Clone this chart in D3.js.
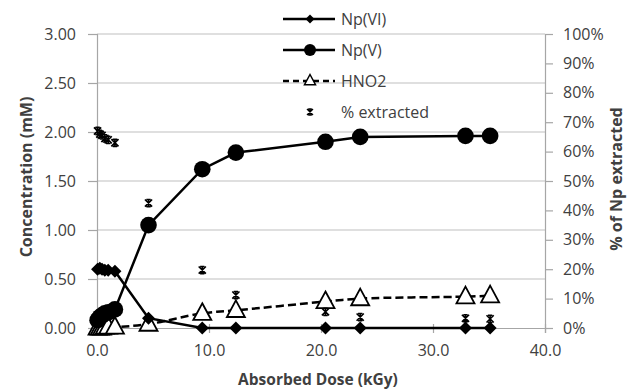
<!DOCTYPE html>
<html>
<head>
<meta charset="utf-8">
<script src="https://cdn.jsdelivr.net/npm/d3@7"></script>
<style>
  html, body { margin: 0; padding: 0; background: #fff; }
  svg { display: block; }
  text { font-family: "Open Sans", sans-serif; fill: #404040; }
</style>
</head>
<body>
<svg id="chart" width="629" height="390"></svg>
<script>
// ---- Data ----
const dose = [0.05, 0.25, 0.45, 0.7, 1.0, 1.6, 4.6, 9.4, 12.4, 20.4, 23.5, 32.9, 35.1];
const npVI = [0.60, 0.61, 0.60, 0.59, 0.59, 0.58, 0.10, 0.00, 0.00, 0.00, 0.00, 0.00, 0.00];
const npV  = [0.08, 0.11, 0.13, 0.15, 0.16, 0.19, 1.05, 1.62, 1.79, 1.90, 1.95, 1.96, 1.96];
const hno2 = [0.00, 0.00, 0.00, 0.01, 0.01, 0.01, 0.04, 0.15, 0.18, 0.27, 0.30, 0.32, 0.33];
const pctExtracted = [67, 66, 65.5, 64.5, 64, 63, 42.5, 19.7, 11.2, 5.5, 3.7, 3.3, 3.1];

const xTicks = [0, 10, 20, 30, 40];
const yTicks = [0, 0.5, 1.0, 1.5, 2.0, 2.5, 3.0];
const y2Ticks = [0, 10, 20, 30, 40, 50, 60, 70, 80, 90, 100];

const seriesNames = ["Np(VI)", "Np(V)", "HNO2", "% extracted"];
const xTitle = "Absorbed Dose (kGy)";
const yTitle = "Concentration (mM)";
const y2Title = "% of Np extracted";

// ---- Layout ----
const W = 629, H = 390;
const m = { left: 97, right: 84, top: 34, bottom: 62 };
const iw = W - m.left - m.right, ih = H - m.top - m.bottom;

const svg = d3.select("#chart");
const g = svg.append("g").attr("transform", `translate(${m.left},${m.top})`);

const x = d3.scaleLinear().domain([0, 40]).range([0, iw]);
const y = d3.scaleLinear().domain([0, 3]).range([ih, 0]);
const y2 = d3.scaleLinear().domain([0, 100]).range([ih, 0]);

const gridColor = "#bfbfbf";
const axisColor = "#a6a6a6";
const fs = 16;

// gridlines
g.append("g").selectAll("line").data(yTicks.filter(d => d > 0)).join("line")
  .attr("x1", 0).attr("x2", iw)
  .attr("y1", d => y(d)).attr("y2", d => y(d))
  .attr("stroke", gridColor).attr("stroke-width", 1.2);

// left axis
const yAxis = g.append("g").call(d3.axisLeft(y).tickValues(yTicks).tickFormat(d3.format(".2f")).tickSize(9).tickPadding(12));
// bottom axis
const xAxis = g.append("g").attr("transform", `translate(0,${ih})`)
  .call(d3.axisBottom(x).tickValues(xTicks).tickFormat(d3.format(".1f")).tickSize(5).tickPadding(12));
xAxis.selectAll(".tick line").attr("y1", -4);
// right axis
const y2Axis = g.append("g").attr("transform", `translate(${iw},0)`)
  .call(d3.axisRight(y2).tickValues(y2Ticks).tickFormat(d => d + "%").tickSize(8).tickPadding(10));

[yAxis, xAxis, y2Axis].forEach(a => {
  a.selectAll("path.domain").attr("stroke", axisColor).attr("stroke-width", 1.2);
  a.selectAll(".tick line").attr("stroke", axisColor).attr("stroke-width", 1.2);
  a.selectAll(".tick text").style("font-family", "'Open Sans', sans-serif").style("font-size", fs + "px").attr("fill", "#404040");
});

// axis titles
svg.append("text").attr("x", m.left + iw / 2 - 3).attr("y", 385)
  .attr("text-anchor", "middle").style("font-size", "15.5px").style("font-weight", "bold").text(xTitle);
svg.append("text").attr("transform", `translate(32,${m.top + ih / 2 - 4}) rotate(-90)`)
  .attr("text-anchor", "middle").style("font-size", fs + "px").style("font-weight", "bold").text(yTitle);
svg.append("text").attr("transform", `translate(622,${m.top + ih / 2 - 2}) rotate(-90)`)
  .attr("text-anchor", "middle").style("font-size", fs + "px").style("font-weight", "bold").text(y2Title);

// ---- Series ----
const idx = d3.range(dose.length);

// HNO2 dashed smooth line
g.append("path")
  .attr("d", d3.line().x(i => x(dose[i])).y(i => y(hno2[i])).curve(d3.curveCatmullRom.alpha(0.5))(idx))
  .attr("fill", "none").attr("stroke", "#000").attr("stroke-width", 2.5).attr("stroke-dasharray", "8,4");

// Np(VI) line
g.append("path")
  .attr("d", d3.line().x(i => x(dose[i])).y(i => y(npVI[i]))(idx))
  .attr("fill", "none").attr("stroke", "#000").attr("stroke-width", 2.5);
// Np(V) line
g.append("path")
  .attr("d", d3.line().x(i => x(dose[i])).y(i => y(npV[i]))(idx))
  .attr("fill", "none").attr("stroke", "#000").attr("stroke-width", 2.5);

// marker generators
const diamond = s => `M0,${-s}L${s},0L0,${s}L${-s},0Z`;
const triangle = s => `M0,${-s}L${s},${s * 0.85}L${-s},${s * 0.85}Z`;
const star = s => `M${-s},${-s}L${s},${s}M${-s},${s}L${s},${-s}M0,${-s}L0,${s}M${-s*0.6},${-s}L${s*0.6},${-s}M${-s*0.6},${s}L${s*0.6},${s}`;

// triangles
g.append("g").selectAll("path").data(idx).join("path")
  .attr("transform", i => `translate(${x(dose[i])},${y(hno2[i]) - 1})`)
  .attr("d", triangle(9)).attr("fill", "#fff").attr("stroke", "#000").attr("stroke-width", 1.8);

// diamonds
g.append("g").selectAll("path").data(idx).join("path")
  .attr("transform", i => `translate(${x(dose[i])},${y(npVI[i])})`)
  .attr("d", diamond(6.5)).attr("fill", "#000");

// circles
g.append("g").selectAll("circle").data(idx).join("circle")
  .attr("cx", i => x(dose[i])).attr("cy", i => y(npV[i])).attr("r", 8.3).attr("fill", "#000");

// % extracted stars
g.append("g").selectAll("path").data(idx).join("path")
  .attr("transform", i => `translate(${x(dose[i])},${y2(pctExtracted[i])})`)
  .attr("d", star(3.6)).attr("fill", "none").attr("stroke", "#000").attr("stroke-width", 1.6);

// ---- Legend ----
const legY = [19, 50, 81, 112];
const lx1 = 283, lx2 = 335, lmx = 310, ltx = 341;
const leg = svg.append("g");
// Np(VI)
leg.append("line").attr("x1", lx1).attr("x2", lx2).attr("y1", legY[0]).attr("y2", legY[0]).attr("stroke", "#000").attr("stroke-width", 2.5);
leg.append("path").attr("transform", `translate(${lmx},${legY[0]})`).attr("d", diamond(4.5)).attr("fill", "#000");
// Np(V)
leg.append("line").attr("x1", lx1).attr("x2", lx2).attr("y1", legY[1]).attr("y2", legY[1]).attr("stroke", "#000").attr("stroke-width", 2.5);
leg.append("circle").attr("cx", lmx).attr("cy", legY[1]).attr("r", 6).attr("fill", "#000");
// HNO2
leg.append("line").attr("x1", lx1).attr("x2", lx2).attr("y1", legY[2]).attr("y2", legY[2]).attr("stroke", "#000").attr("stroke-width", 2.5).attr("stroke-dasharray", "6,4");
leg.append("path").attr("transform", `translate(${lmx},${legY[2] - 1})`).attr("d", triangle(5.5)).attr("fill", "#fff").attr("stroke", "#000").attr("stroke-width", 1.5);
// % extracted
leg.append("path").attr("transform", `translate(${lmx},${legY[3]})`).attr("d", star(3)).attr("fill", "none").attr("stroke", "#000").attr("stroke-width", 1.4);

leg.selectAll("text.l").data(seriesNames).join("text").attr("class", "l")
  .attr("x", ltx).attr("y", (d, i) => legY[i]).attr("dy", "0.35em")
  .style("font-size", fs + "px").text(d => d);
</script>
</body>
</html>
